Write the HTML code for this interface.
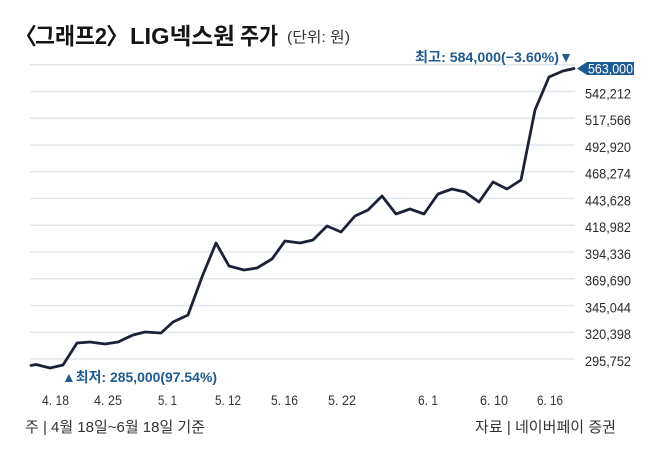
<!DOCTYPE html>
<html><head><meta charset="utf-8"><style>
html,body{margin:0;padding:0;background:#fff;}
svg{display:block;}
text{font-family:"Liberation Sans","Noto Sans CJK KR",sans-serif;}
</style></head><body>
<svg width="658" height="458" viewBox="0 0 658 458" xmlns="http://www.w3.org/2000/svg">
<rect width="658" height="458" fill="#fff"/>
<!-- title -->
<text x="14" y="44" font-size="23" font-weight="bold" fill="#151515">〈</text>
<text x="35" y="44" font-size="23" font-weight="bold" fill="#151515" textLength="72" lengthAdjust="spacingAndGlyphs">그래프2</text>
<text x="106" y="44" font-size="23" font-weight="bold" fill="#151515">〉</text>
<text x="130" y="44" font-size="23" font-weight="bold" fill="#151515" textLength="105" lengthAdjust="spacingAndGlyphs">LIG넥스원</text>
<text x="240" y="44" font-size="23" font-weight="bold" fill="#151515" textLength="38" lengthAdjust="spacingAndGlyphs">주가</text>
<text x="287" y="42" font-size="15" fill="#333" textLength="63" lengthAdjust="spacingAndGlyphs">(단위: 원)</text>
<!-- grid -->
<g stroke="#dfe7eb" stroke-width="1.5">
<line x1="30" x2="575" y1="359" y2="359"/>
<line x1="30" x2="575" y1="332.25" y2="332.25"/>
<line x1="30" x2="575" y1="305.5" y2="305.5"/>
<line x1="30" x2="575" y1="278.75" y2="278.75"/>
<line x1="30" x2="575" y1="252" y2="252"/>
<line x1="30" x2="575" y1="225.25" y2="225.25"/>
<line x1="30" x2="575" y1="198.5" y2="198.5"/>
<line x1="30" x2="575" y1="171.75" y2="171.75"/>
<line x1="30" x2="575" y1="145" y2="145"/>
<line x1="30" x2="575" y1="118.25" y2="118.25"/>
<line x1="30" x2="575" y1="91.5" y2="91.5"/>
<line x1="30" x2="575" y1="64.75" y2="64.75"/>
</g>
<!-- y labels -->
<g font-size="14" fill="#2a2a2a">
<text x="585" y="366" textLength="46" lengthAdjust="spacingAndGlyphs">295,752</text>
<text x="585" y="339" textLength="46" lengthAdjust="spacingAndGlyphs">320,398</text>
<text x="585" y="312.5" textLength="46" lengthAdjust="spacingAndGlyphs">345,044</text>
<text x="585" y="285.5" textLength="46" lengthAdjust="spacingAndGlyphs">369,690</text>
<text x="585" y="259" textLength="46" lengthAdjust="spacingAndGlyphs">394,336</text>
<text x="585" y="232" textLength="46" lengthAdjust="spacingAndGlyphs">418,982</text>
<text x="585" y="205.5" textLength="46" lengthAdjust="spacingAndGlyphs">443,628</text>
<text x="585" y="178.5" textLength="46" lengthAdjust="spacingAndGlyphs">468,274</text>
<text x="585" y="152" textLength="46" lengthAdjust="spacingAndGlyphs">492,920</text>
<text x="585" y="125" textLength="46" lengthAdjust="spacingAndGlyphs">517,566</text>
<text x="585" y="98.5" textLength="46" lengthAdjust="spacingAndGlyphs">542,212</text>
</g>
<!-- tag -->
<path d="M577,68.5 L587,62 L634,62 L634,75 L587,75 Z" fill="#1c5a94"/>
<text x="588" y="73.5" font-size="14" fill="#fff" textLength="45" lengthAdjust="spacingAndGlyphs">563,000</text>
<!-- series -->
<polyline fill="none" stroke="#1b2238" stroke-width="2.8" stroke-linejoin="round" stroke-linecap="round"
points="31,365.5 36,364.5 50,368 63,365 77,343 90,342 105,344 118,342 133,335 145,332 161,333 173,322 188,315 202,277 216,243 229,266 244,270 257,268 272,259 285,241 300,243 313,240 327,226 341,232 355,216 368,210 382,196 396,214 410,209 424,214 438,194 452,189 465,192 479,202 493,182 507,189 521,180 535,110 549,77 563,71 574,68.5"/>
<!-- annotations -->
<text x="415" y="62" font-size="14" font-weight="bold" fill="#1f5a8f" textLength="158" lengthAdjust="spacingAndGlyphs">최고: 584,000(−3.60%)▼</text>
<text x="62" y="382" font-size="14" font-weight="bold" fill="#1f5a8f" textLength="155" lengthAdjust="spacingAndGlyphs">▲최저: 285,000(97.54%)</text>
<!-- x labels -->
<g font-size="14" fill="#333">
<text x="42" y="405" textLength="27" lengthAdjust="spacingAndGlyphs">4. 18</text>
<text x="94" y="405" textLength="28" lengthAdjust="spacingAndGlyphs">4. 25</text>
<text x="158" y="405" textLength="19" lengthAdjust="spacingAndGlyphs">5. 1</text>
<text x="215" y="405" textLength="26" lengthAdjust="spacingAndGlyphs">5. 12</text>
<text x="271" y="405" textLength="27" lengthAdjust="spacingAndGlyphs">5. 16</text>
<text x="328" y="405" textLength="28" lengthAdjust="spacingAndGlyphs">5. 22</text>
<text x="418" y="405" textLength="20" lengthAdjust="spacingAndGlyphs">6. 1</text>
<text x="480" y="405" textLength="28" lengthAdjust="spacingAndGlyphs">6. 10</text>
<text x="537" y="405" textLength="26" lengthAdjust="spacingAndGlyphs">6. 16</text>
</g>
<!-- footer -->
<text x="25" y="432" font-size="15" fill="#333" textLength="180" lengthAdjust="spacingAndGlyphs">주 | 4월 18일~6월 18일 기준</text>
<text x="475" y="432" font-size="15" fill="#333" textLength="141" lengthAdjust="spacingAndGlyphs">자료 | 네이버페이 증권</text>
</svg>
</body></html>
